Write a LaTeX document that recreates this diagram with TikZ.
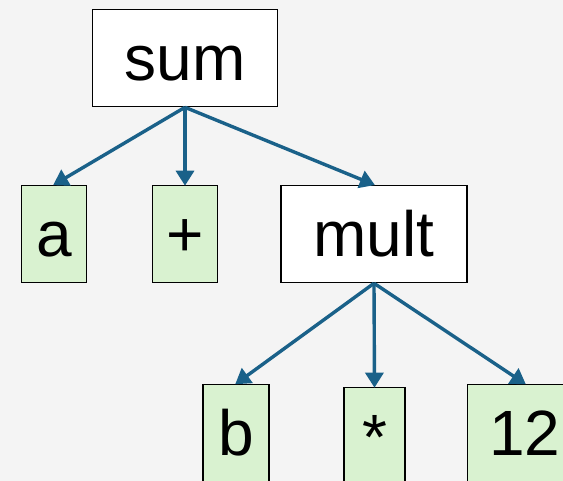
\documentclass[tikz,border=0pt]{standalone}
\usepackage{fontspec}
\setmainfont{Liberation Sans}
\usetikzlibrary{arrows.meta}
\definecolor{bg}{HTML}{F4F4F4}
\definecolor{leaf}{HTML}{D9F2D0}
\definecolor{edge}{HTML}{1A6189}
\begin{document}
\begin{tikzpicture}[x=1pt,y=-1pt,
  box/.style={draw=black,line width=1.6pt,fill=white,rectangle,inner sep=0pt,
    font=\fontsize{64}{64}\selectfont,text height=46pt,text depth=0pt,minimum height=97pt},
  leafbox/.style={box,fill=leaf},
  link/.style={draw=edge,line width=3.4pt,-{Triangle[length=15pt,width=18pt]},shorten >=-1pt}]
\clip (0,0) rectangle (563,481);
\fill[bg] (0,0) rectangle (563,481);
\node[box,minimum width=185pt] (sum) at (185,58) {sum};
\node[leafbox,minimum width=65pt] (a) at (54,234) {a};
\node[leafbox,minimum width=65pt] (plus) at (185,234) {+};
\node[box,minimum width=186pt] (mult) at (374,234) {mult};
\node[leafbox,minimum width=66pt] (b) at (236,433) {b};
\node[leafbox,minimum width=61pt] (star) at (374.5,436) {*};
\node[leafbox,minimum width=115pt] (twelve) at (525,433) {12};
\draw[link] (sum.south) -- (a.north);
\draw[link] (sum.south) -- (plus.north);
\draw[link] (sum.south) -- (mult.north);
\draw[link] (mult.south) -- (b.north);
\draw[link] (mult.south) -- (star.north);
\draw[link] (mult.south) -- (twelve.north);
\end{tikzpicture}
\end{document}
